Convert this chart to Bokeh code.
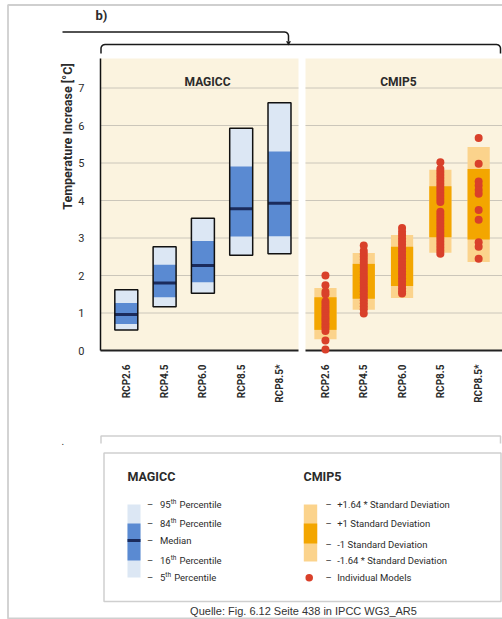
import math
from bokeh.plotting import figure
from bokeh.models import Range1d, LinearAxis, FixedTicker
from bokeh.core.properties import value
from bokeh.embed import file_html
from bokeh.resources import INLINE

# ---------------- data ----------------
scenarios = ["RCP2.6", "RCP4.5", "RCP6.0", "RCP8.5", "RCP8.5*"]

magicc_p5 = [0.55, 1.17, 1.53, 2.54, 2.58]
magicc_p16 = [0.71, 1.42, 1.82, 3.04, 3.05]
magicc_median = [0.96, 1.80, 2.27, 3.78, 3.93]
magicc_p84 = [1.27, 2.29, 2.92, 4.91, 5.31]
magicc_p95 = [1.62, 2.77, 3.53, 5.93, 6.61]

cmip_minus164 = [0.30, 1.09, 1.40, 2.61, 2.36]
cmip_minus1 = [0.55, 1.38, 1.72, 3.02, 2.96]
cmip_plus1 = [1.42, 2.31, 2.77, 4.38, 4.84]
cmip_plus164 = [1.67, 2.60, 3.08, 4.82, 5.43]

models_rcp26 = [2.00, 1.74, 1.57, 1.50, 1.31, 1.24, 1.17, 1.11, 1.05, 0.99, 0.92,
                0.86, 0.80, 0.73, 0.66, 0.60, 0.52, 0.27, 0.03]
models_rcp45 = [2.80, 2.66, 2.58, 2.50, 2.42, 2.34, 2.26, 2.18, 2.10, 2.02, 1.95, 1.88,
                1.80, 1.72, 1.65, 1.58, 1.50, 1.42, 1.34, 1.26, 1.18, 1.10, 0.99]
models_rcp60 = [3.27, 3.17, 3.08, 2.99, 2.90, 2.82, 2.73, 2.64, 2.55, 2.46, 2.37,
                2.28, 2.19, 2.10, 2.02, 1.93, 1.84, 1.75, 1.66, 1.58, 1.52]
models_rcp85 = [5.02, 4.84, 4.76, 4.68, 4.60, 4.52, 4.44, 4.36, 4.28, 4.20, 4.12, 4.04,
                3.96, 3.70, 3.62, 3.54, 3.46, 3.38, 3.30, 3.22, 3.14, 3.06, 2.98, 2.90,
                2.82, 2.74, 2.66, 2.58]
models_rcp85s = [5.67, 4.98, 4.51, 4.40, 4.28, 4.18, 3.75, 3.49, 2.89, 2.77, 2.45]
cmip_models = [models_rcp26, models_rcp45, models_rcp60, models_rcp85, models_rcp85s]

y_ticks = [0, 1, 2, 3, 4, 5, 6, 7]

panel_titles = ["MAGICC", "CMIP5"]
y_title = "Temperature Increase [°C]"
magicc_legend = [("95", "th", "Percentile"), ("84", "th", "Percentile"), ("Median", "", ""),
                 ("16", "th", "Percentile"), ("5", "th", "Percentile")]
cmip_legend = ["+1.64 * Standard Deviation", "+1 Standard Deviation", "-1 Standard Deviation",
               "-1.64 * Standard Deviation", "Individual Models"]
source_note = "Quelle: Fig. 6.12 Seite 438 in IPCC WG3_AR5"

# ---------------- style / layout ----------------
CREAM = "#FBF3DF"
GRID = "#CBC6BA"
LIGHT_BLUE = "#DCE7F4"
BLUE = "#5A8AD2"
NAVY = "#1B2B5C"
LIGHT_ORANGE = "#FBD38C"
ORANGE = "#F3A600"
RED = "#D9402A"
TXT = "#2B2B2B"
FRAME_GRAY = "#CFCFCF"

W, H = 502, 619
X0, XU = 125.8, 38.3   # screen x of MAGICC first box, px per slot
Y0, YU = 350.0, 37.5   # screen y of 0 degC, px per degC
CMIP_OFFSET = 5.2

p = figure(width=W, height=H, output_backend="svg", toolbar_location=None,
           x_range=Range1d((0 - X0) / XU, (W - X0) / XU),
           y_range=Range1d((Y0 - H) / YU, (Y0 - 0) / YU),
           x_axis_location=None, y_axis_location=None, min_border=0,
           outline_line_color=None, background_fill_color="white",
           border_fill_color="white")
p.extra_x_ranges = {"px": Range1d(0, W)}
p.extra_y_ranges = {"px": Range1d(H, 0)}
p.grid.visible = False

PX = dict(x_range_name="px", y_range_name="px")


def txt(x, y, s, size, bold=False, align="left", color=TXT, font="Roboto", angle=0.0):
    p.text(x=[x], y=[y], text=[s], angle=angle, text_font=value(font),
           text_font_size=value(f"{size}px"),
           text_font_style="bold" if bold else "normal",
           text_align=align, text_baseline="middle", text_color=color, **PX)


# outer page frame lines
p.line(x=[W + 5, 7.5, 7.5, W + 5], y=[4.5, 4.5, 618, 618], line_color=FRAME_GRAY,
       line_width=1.8, **PX)

# panels
p.quad(left=[100, 305], right=[298, 520], top=[58, 58], bottom=[350, 350],
       fill_color=CREAM, line_color=None, **PX)

# gridlines (x in screen px, y in data)
gy = [t for t in y_ticks if t > 0]
p.segment(x0=[100] * len(gy) + [305] * len(gy), x1=[298] * len(gy) + [520] * len(gy),
          y0=gy + gy, y1=gy + gy, line_color=GRID, line_width=1, x_range_name="px")

mag_x = [i for i in range(len(scenarios))]
cm_x = [i + CMIP_OFFSET for i in range(len(scenarios))]
hw = 0.3
cw = 0.29

# MAGICC boxes
p.quad(left=[x - hw for x in mag_x], right=[x + hw for x in mag_x], bottom=magicc_p5,
       top=magicc_p95, fill_color=LIGHT_BLUE, line_color=None)
p.quad(left=[x - hw for x in mag_x], right=[x + hw for x in mag_x], bottom=magicc_p16,
       top=magicc_p84, fill_color=BLUE, line_color=None)
p.segment(x0=[x - hw for x in mag_x], x1=[x + hw for x in mag_x], y0=magicc_median,
          y1=magicc_median, line_color=NAVY, line_width=3)
p.quad(left=[x - hw for x in mag_x], right=[x + hw for x in mag_x], bottom=magicc_p5,
       top=magicc_p95, fill_color=None, line_color="#111111", line_width=1.5)

# CMIP5 boxes
p.quad(left=[x - cw for x in cm_x], right=[x + cw for x in cm_x], bottom=cmip_minus164,
       top=cmip_plus164, fill_color=LIGHT_ORANGE, line_color=None)
p.quad(left=[x - cw for x in cm_x], right=[x + cw for x in cm_x], bottom=cmip_minus1,
       top=cmip_plus1, fill_color=ORANGE, line_color=None)

# bottom axis lines (with gap between panels)
p.segment(x0=[100, 305], x1=[298, 520], y0=[0, 0], y1=[0, 0], line_color="#222222",
          line_width=2, x_range_name="px")

# individual models
dx, dy = [], []
for x, vals in zip(cm_x, cmip_models):
    dx += [x] * len(vals)
    dy += vals
p.scatter(x=dx, y=dy, size=8, fill_color=RED, line_color=None)

# axes
yaxis = LinearAxis(fixed_location=(100 - X0) / XU, ticker=FixedTicker(ticks=y_ticks),
                   bounds=(0, (Y0 - 58) / YU))
yaxis.axis_line_color = "#111111"
yaxis.axis_line_width = 1.5
yaxis.major_tick_line_color = None
yaxis.minor_tick_line_color = None
yaxis.major_label_standoff = 10
yaxis.major_label_text_font = "Roboto"
yaxis.major_label_text_font_size = "11px"
yaxis.major_label_text_color = TXT
p.add_layout(yaxis, "left")

xticks = mag_x + cm_x
xaxis = LinearAxis(fixed_location=0, ticker=FixedTicker(ticks=xticks),
                   major_label_overrides={t: s for t, s in zip(xticks, scenarios + scenarios)},
                   major_label_orientation=math.pi / 2)
xaxis.axis_line_color = None
xaxis.major_tick_line_color = None
xaxis.minor_tick_line_color = None
xaxis.major_tick_out = 0
xaxis.major_label_standoff = 14
xaxis.major_label_text_font = "Roboto"
xaxis.major_label_text_font_size = "10px"
xaxis.major_label_text_font_style = "bold"
xaxis.major_label_text_color = TXT
p.add_layout(xaxis, "below")

# titles
txt(207, 81, panel_titles[0], 12, bold=True, align="center")
txt(398, 81, panel_titles[1], 12, bold=True, align="center")
txt(67, 136, y_title, 12.5, bold=True, align="center", angle=math.pi / 2)
txt(95, 15, "b)", 13, bold=True)

# brackets
r = 4.0
arc = [i * math.pi / 12 for i in range(7)]
top_x = [62, 284] + [284 + r * math.sin(a) for a in arc] + [288, 288]
top_y = [31.5, 31.5] + [31.5 + r - r * math.cos(a) for a in arc] + [35.5, 40.5]
p.line(x=top_x, y=top_y, line_color="#1A1A1A", line_width=1.5, **PX)
p.scatter(x=[288], y=[42.2], marker="inverted_triangle", size=5, fill_color="#1A1A1A",
          line_color=None, **PX)
br_x = [100.5, 100.5] + [100.5 + r - r * math.cos(a) for a in arc] + [496] + \
       [496 + r * math.sin(a) for a in arc] + [500, 500]
br_y = [53, 48] + [48 - r * math.sin(a) for a in arc] + [44] + \
       [44 + r - r * math.cos(a) for a in arc] + [48, 53]
p.line(x=br_x, y=br_y, line_color="#1A1A1A", line_width=1.5, **PX)

# lower box outline and legend box
p.line(x=[100.5, 100.5, 500, 500], y=[443, 435.5, 435.5, 443], line_color=FRAME_GRAY,
       line_width=1.5, **PX)
txt(61, 440, ".", 10)
p.quad(left=[103.5], right=[500.5], top=[452.5], bottom=[601], fill_color=None,
       line_color=FRAME_GRAY, line_width=1.5, **PX)

# legend MAGICC
txt(127, 476, "MAGICC", 12.5, bold=True)
p.quad(left=[127], right=[140], top=[504], bottom=[577], fill_color=LIGHT_BLUE,
       line_color=None, **PX)
p.quad(left=[127], right=[140], top=[523], bottom=[560], fill_color=BLUE,
       line_color=None, **PX)
p.segment(x0=[127], x1=[140], y0=[540], y1=[540], line_color=NAVY, line_width=3, **PX)
ly = [503.5, 522.7, 540, 560, 576.7]
for (num, sup, rest), y in zip(magicc_legend, ly):
    txt(146.5, y, "–", 9.5)
    if sup:
        txt(159.5, y, num, 9.5)
        sx = 159.5 + 5.33 * len(num)
        txt(sx, y - 2.5, sup, 6.5)
        txt(sx + 8.8, y, rest, 9.5)
    else:
        txt(159.5, y, num, 9.5)

# legend CMIP5
txt(303, 476, "CMIP5", 12.5, bold=True)
p.quad(left=[303.3], right=[316.7], top=[504], bottom=[561], fill_color=LIGHT_ORANGE,
       line_color=None, **PX)
p.quad(left=[303.3], right=[316.7], top=[523], bottom=[543], fill_color=ORANGE,
       line_color=None, **PX)
p.scatter(x=[308.7], y=[577.3], size=7.5, fill_color=RED, line_color=None, **PX)
cy = [503.5, 522.7, 543.7, 560, 576.7]
for s, y in zip(cmip_legend, cy):
    txt(325, y, "–", 9.5)
    txt(336.7, y, s, 9.5)

txt(303, 610.5, source_note, 11, align="center", color="#333333", font="Liberation Sans")

open("out.html", "w").write(file_html(p, INLINE))
